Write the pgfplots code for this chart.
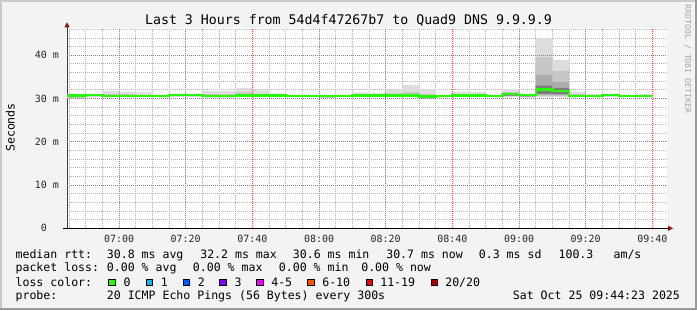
\documentclass[border=0pt]{standalone}
\usepackage{pgfplots}
\pgfplotsset{compat=1.18}
\usepackage{pgfplotstable}
\usepgfplotslibrary{fillbetween}
\usetikzlibrary{arrows.meta}
\usepackage{fontspec}
\setmainfont{DejaVu Sans Mono}
\definecolor{bgc}{HTML}{F3F3F3}
\definecolor{shadeA}{HTML}{CBCBCB}
\definecolor{shadeB}{HTML}{999999}
\definecolor{gridc}{HTML}{B4B4B4}
\definecolor{mgridc}{HTML}{FF5050}
\definecolor{arrowc}{HTML}{8C1414}
\definecolor{smokeA}{HTML}{DDDDDD}
\definecolor{smokeB}{HTML}{C6C6C6}
\definecolor{smokeC}{HTML}{ACACAC}
\definecolor{smokeD}{HTML}{7C7C7C}
\definecolor{cz}{HTML}{26FF00}
\definecolor{ca}{HTML}{00B8FF}
\definecolor{cb}{HTML}{0059FF}
\definecolor{cc}{HTML}{7E00FF}
\definecolor{cd}{HTML}{EE00FF}
\definecolor{ce}{HTML}{FF5500}
\definecolor{cf}{HTML}{FF0000}
\definecolor{cg}{HTML}{A10000}
\newcommand{\legfont}{\fontsize{11.6}{13}\selectfont}
\tikzset{mg/.style={draw=mgridc, dash pattern=on 1bp off 1bp, line width=1bp}}

\pgfplotstableread{
x l1lo l1hi l2lo l2hi l3lo l3hi l4lo l4hi med
44.383 30.0 31.1 30.1 31.0 30.3 30.9 30.5 30.8 30.7
50 30.4 31.1 30.5 31.0 30.6 30.9 30.7 30.9 30.8
55 30.3 31.7 30.4 31.1 30.5 30.8 30.5 30.7 30.6
60 30.3 31.6 30.4 31.0 30.5 30.8 30.5 30.7 30.6
65 30.3 31.4 30.4 30.9 30.5 30.8 30.5 30.7 30.6
70 30.3 30.9 30.4 30.8 30.5 30.7 30.5 30.7 30.6
75 30.4 31.1 30.5 31.1 30.6 31.0 30.7 31.0 30.8
80 30.4 31.1 30.5 31.1 30.6 31.0 30.7 31.0 30.8
85 30.2 31.7 30.3 31.1 30.4 30.8 30.5 30.7 30.6
90 30.2 31.7 30.3 31.0 30.4 30.8 30.5 30.7 30.6
95 30.4 32.4 30.5 31.4 30.6 30.9 30.6 30.8 30.7
100 30.4 31.9 30.5 31.1 30.6 30.9 30.6 30.8 30.7
105 30.3 31.2 30.4 30.9 30.5 30.8 30.6 30.8 30.7
110 30.4 30.9 30.5 30.8 30.5 30.7 30.5 30.7 30.6
115 30.4 30.9 30.5 30.8 30.5 30.7 30.5 30.7 30.6
120 30.1 30.9 30.2 30.8 30.3 30.7 30.4 30.7 30.6
125 30.4 30.9 30.5 30.8 30.5 30.7 30.5 30.7 30.6
130 30.4 31.4 30.5 31.0 30.6 30.8 30.6 30.8 30.7
135 30.3 31.3 30.4 30.9 30.6 30.8 30.6 30.8 30.7
140 30.3 32.0 30.4 31.2 30.5 30.9 30.6 30.8 30.7
145 30.3 33.1 30.4 31.5 30.5 31.0 30.6 30.8 30.7
150 29.8 32.1 30.0 31.0 30.2 30.7 30.3 30.6 30.5
155 30.4 30.9 30.5 30.8 30.5 30.7 30.5 30.7 30.6
160 30.4 31.6 30.5 31.0 30.6 30.8 30.6 30.8 30.7
165 30.4 31.5 30.5 31.0 30.6 30.8 30.6 30.8 30.7
170 30.4 30.9 30.5 30.8 30.5 30.7 30.5 30.7 30.6
175 30.4 32.2 30.5 31.5 30.6 31.2 30.7 31.1 31.0
180 30.2 31.1 30.3 31.0 30.4 30.9 30.6 30.9 30.8
185 30.4 43.9 30.6 39.5 30.9 35.5 31.1 33.0 32.1
190 30.4 38.9 30.6 36.4 30.8 33.8 31.0 32.4 31.7
195 30.3 31.6 30.4 31.0 30.5 30.8 30.5 30.7 30.6
200 30.4 31.0 30.5 30.8 30.5 30.7 30.5 30.7 30.6
205 30.4 31.1 30.5 31.0 30.6 30.9 30.7 30.9 30.8
210 30.4 30.9 30.5 30.8 30.5 30.7 30.5 30.7 30.6
215 30.4 31.0 30.5 30.8 30.5 30.7 30.5 30.7 30.6
220 30.4 31.0 30.5 30.8 30.5 30.7 30.5 30.7 30.6
}\smoke

\begin{document}
\pagecolor{bgc}%
\begin{tikzpicture}[x=1bp,y=1bp]
\path (0,0) rectangle (697,310);
\fill[shadeA] (0,308) rectangle (697,310);
\fill[shadeA] (0,0) rectangle (2,310);
\fill[shadeB] (695,0) rectangle (697,310);
\fill[shadeB] (0,0) rectangle (697,2);

\begin{axis}[
  at={(67bp,81.7bp)}, anchor=south west,
  width=600bp, height=200bp, scale only axis,
  xmin=44.383, xmax=224.383, ymin=0, ymax=46.24,
  axis background/.style={fill=white},
  axis lines=left,
  x axis line style={black, line width=0.8bp, -{Triangle[length=5bp,width=5bp,color=arrowc]}, shorten >=-6bp, shorten <=-4.5bp},
  y axis line style={black!75, line width=0.8bp, -{Triangle[length=5bp,width=5bp,color=arrowc]}, shorten >=-6bp},
  xtick={60,80,100,120,140,160,180,200,220},
  xticklabels={07:00,07:20,07:40,08:00,08:20,08:40,09:00,09:20,09:40},
  minor xtick={45,50,55,65,70,75,85,90,95,105,110,115,125,130,135,145,150,155,165,170,175,185,190,195,205,210,215,225},
  ytick={0,10,20,30,40},
  yticklabels={0\phantom{\ m},10 m,20 m,30 m,40 m},
  minor ytick={2,4,6,8,12,14,16,18,22,24,26,28,32,34,36,38,42,44,46},
  grid=minor,
  every minor grid/.style={draw=gridc, dash pattern=on 1bp off 1bp, line width=0.9bp},
  major tick length=0pt, minor tick length=0pt,
  /pgf/number format/assume math mode=true,
  ticklabel style={font=\fontsize{10}{12}\selectfont, text=black!85},
  xticklabel style={yshift=-3bp},
  yticklabel style={xshift=-4.5bp},
]
\draw[mg] (axis cs:60,0) -- (axis cs:60,46.24);
\draw[mg] (axis cs:80,0) -- (axis cs:80,46.24);
\draw[mg] (axis cs:100,0) -- (axis cs:100,46.24);
\draw[mg] (axis cs:120,0) -- (axis cs:120,46.24);
\draw[mg] (axis cs:140,0) -- (axis cs:140,46.24);
\draw[mg] (axis cs:160,0) -- (axis cs:160,46.24);
\draw[mg] (axis cs:180,0) -- (axis cs:180,46.24);
\draw[mg] (axis cs:200,0) -- (axis cs:200,46.24);
\draw[mg] (axis cs:220,0) -- (axis cs:220,46.24);
\draw[mg] (axis cs:44.383,10) -- (axis cs:224.383,10);
\draw[mg] (axis cs:44.383,20) -- (axis cs:224.383,20);
\draw[mg] (axis cs:44.383,30) -- (axis cs:224.383,30);
\draw[mg] (axis cs:44.383,40) -- (axis cs:224.383,40);
\addplot[name path=a1, draw=none, const plot] table[x=x,y=l1lo]{\smoke};
\addplot[name path=b1, draw=none, const plot] table[x=x,y=l1hi]{\smoke};
\addplot[smokeA] fill between[of=a1 and b1];
\addplot[name path=a2, draw=none, const plot] table[x=x,y=l2lo]{\smoke};
\addplot[name path=b2, draw=none, const plot] table[x=x,y=l2hi]{\smoke};
\addplot[smokeB] fill between[of=a2 and b2];
\addplot[name path=a3, draw=none, const plot] table[x=x,y=l3lo]{\smoke};
\addplot[name path=b3, draw=none, const plot] table[x=x,y=l3hi]{\smoke};
\addplot[smokeC] fill between[of=a3 and b3];
\addplot[name path=a4, draw=none, const plot] table[x=x,y=l4lo]{\smoke};
\addplot[name path=b4, draw=none, const plot] table[x=x,y=l4hi]{\smoke};
\addplot[smokeD] fill between[of=a4 and b4];
\addplot[const plot, draw=cz, line width=2.3bp] table[x=x,y=med]{\smoke};
\end{axis}

\node[anchor=base, inner sep=0, font=\fontsize{13.3}{15}\selectfont] at (348.5,286) {Last 3 Hours from 54d4f47267b7 to Quad9 DNS 9.9.9.9};
\node[anchor=base, inner sep=0, rotate=90, font=\legfont] at (14.5,182.5) {Seconds};
\node[anchor=base, inner sep=0, rotate=-90, text=black!35, font=\fontsize{8.2}{10}\selectfont] at (685,251) {RRDTOOL / TOBI OETIKER};

\begin{scope}[every node/.style={anchor=base west, inner sep=0, font=\legfont}]
\node at (15.4,51.7) {median rtt:};
\node at (106.7,51.7) {30.8 ms avg};
\node at (200.1,51.7) {32.2 ms max};
\node at (292.7,51.7) {30.6 ms min};
\node at (386.1,51.7) {30.7 ms now};
\node at (478.7,51.7) {0.3 ms sd};
\node at (558.4,51.7) {100.3};
\node at (613.4,51.7) {am/s};
\node at (15.4,38.3) {packet loss:};
\node at (106.7,38.3) {0.00 \% avg};
\node at (192.7,38.3) {0.00 \% max};
\node at (278.7,38.3) {0.00 \% min};
\node at (361.1,38.3) {0.00 \% now};
\node at (15.4,24) {loss color:};
\node at (123.4,24) {0};
\node at (160.7,24) {1};
\node at (197.7,24) {2};
\node at (234.4,24) {3};
\node at (271.1,24) {4-5};
\node at (322.1,24) {6-10};
\node at (380.1,24) {11-19};
\node at (445.1,24) {20/20};
\node at (15.4,10.7) {probe:};
\node at (106.7,10.7) {20 ICMP Echo Pings (56 Bytes) every 300s};
\node at (512.7,10.7) {Sat Oct 25 09:44:23 2025};
\end{scope}
\begin{scope}[line width=0.8bp]
\filldraw[fill=cz, draw=black] (108.7,24.4) rectangle (114.9,30.6);
\filldraw[fill=ca, draw=black] (146.1,24.4) rectangle (152.3,30.6);
\filldraw[fill=cb, draw=black] (183.1,24.4) rectangle (189.3,30.6);
\filldraw[fill=cc, draw=black] (219.7,24.4) rectangle (225.9,30.6);
\filldraw[fill=cd, draw=black] (256.7,24.4) rectangle (262.9,30.6);
\filldraw[fill=ce, draw=black] (307.7,24.4) rectangle (313.9,30.6);
\filldraw[fill=cf, draw=black] (366.1,24.4) rectangle (372.3,30.6);
\filldraw[fill=cg, draw=black] (431.1,24.4) rectangle (437.3,30.6);
\end{scope}
\end{tikzpicture}
\end{document}
